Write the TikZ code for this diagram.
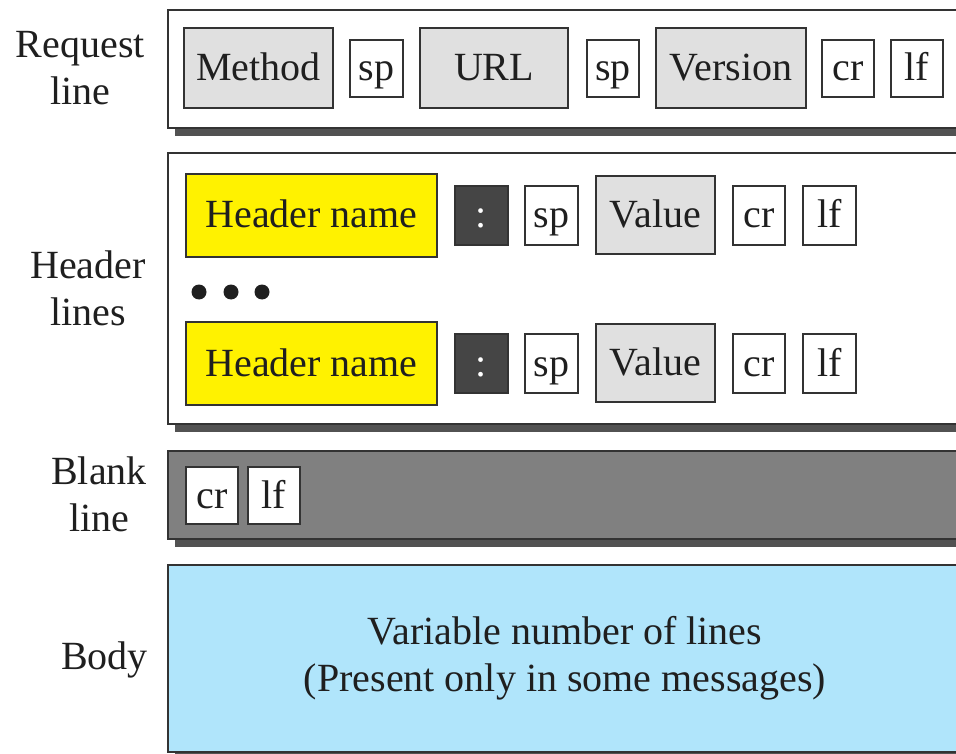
\documentclass[tikz,border=0pt]{standalone}
\usepackage{fontspec}
\setmainfont{Liberation Serif}
\begin{document}
\begin{tikzpicture}[x=1pt,y=-1pt,
  font=\fontsize{40}{47}\selectfont,
  line join=miter,
  frame/.style={draw=black!80, line width=2.4pt},
  shadowcol/.style={fill=black!68, draw=none},
  field/.style={frame, inner sep=0pt, text=black!88, anchor=center,
                text height=30pt, text depth=5pt},
  gfield/.style={field, fill=black!12},
  wfield/.style={field, fill=white, minimum width=52pt, minimum height=57pt},
  yfield/.style={field, fill=yellow, minimum width=251pt, minimum height=83pt},
  cfield/.style={field, fill=black!73, text=white, minimum width=53pt, minimum height=59pt},
  vfield/.style={gfield, minimum width=119pt, minimum height=78pt},
  rowlabel/.style={anchor=east, align=center, text=black!88, inner sep=0pt},
  dot/.style={fill=black!88, draw=none}
]
\useasboundingbox (0,0) rectangle (956,754);
\clip (0,0) rectangle (956,754);

% ---- outer panels with drop shadows ----
\fill[shadowcol] (175,18) rectangle (980,136);
\draw[frame, fill=white] (168,10) rectangle (980,128);

\fill[shadowcol] (175,161) rectangle (980,432);
\draw[frame, fill=white] (168,153) rectangle (980,424);

\fill[shadowcol] (175,459) rectangle (980,547);
\draw[frame, fill=black!50] (168,451) rectangle (980,539);

\fill[shadowcol] (175,573) rectangle (980,760);
\draw[frame, fill={rgb,255:red,176;green,229;blue,251}] (168,565) rectangle (980,752);

% ---- row labels ----
\node[rowlabel] (lreq) at (145,68.5) {Request\\line};
\node[rowlabel] (lhdr) at (146,288.5) {Header\\lines};
\node[rowlabel] (lblank) at (147,494) {Blank\\line};
\node[rowlabel] (lbody) at (148,660) {Body};

% ---- request line ----
\node[gfield, minimum width=149pt, minimum height=80pt] (method) at (258.5,68) {Method};
\node[wfield, minimum width=53pt] (sp1) at (376.5,68.5) {sp};
\node[gfield, minimum width=148pt, minimum height=80pt] (url) at (494,68) {URL};
\node[wfield] (sp2) at (613,68.5) {sp};
\node[gfield, minimum width=150pt, minimum height=80pt] (version) at (731,68) {Version};
\node[wfield] (rcr) at (848,68.5) {cr};
\node[wfield] (rlf) at (917,68.5) {lf};

% ---- header lines ----
\node[yfield] (hname1) at (311.5,215.5) {Header name};
\node[cfield] (colon1) at (481.5,215.5) {:};
\node[wfield, minimum width=53pt, minimum height=59pt] (hsp1) at (551.5,215.5) {sp};
\node[vfield] (val1) at (655.5,215) {Value};
\node[wfield, minimum height=59pt] (hcr1) at (759,215.5) {cr};
\node[wfield, minimum width=53pt, minimum height=59pt] (hlf1) at (829.5,215.5) {lf};

\fill[dot] (199,292) circle (7.5);
\fill[dot] (231,292) circle (7.5);
\fill[dot] (262,292) circle (7.5);

\node[yfield] (hname2) at (311.5,363.5) {Header name};
\node[cfield] (colon2) at (481.5,363.5) {:};
\node[wfield, minimum width=53pt, minimum height=59pt] (hsp2) at (551.5,363.5) {sp};
\node[vfield] (val2) at (655.5,363) {Value};
\node[wfield, minimum height=59pt] (hcr2) at (759,363.5) {cr};
\node[wfield, minimum width=53pt, minimum height=59pt] (hlf2) at (829.5,363.5) {lf};

% ---- blank line ----
\node[wfield] (bcr) at (212,495.5) {cr};
\node[wfield] (blf) at (274,495.5) {lf};

% ---- body ----
\node[align=center, text=black!88, inner sep=0pt] (bodytext) at (565,658)
  {Variable number of lines\\(Present only in some messages)};
\end{tikzpicture}
\end{document}
